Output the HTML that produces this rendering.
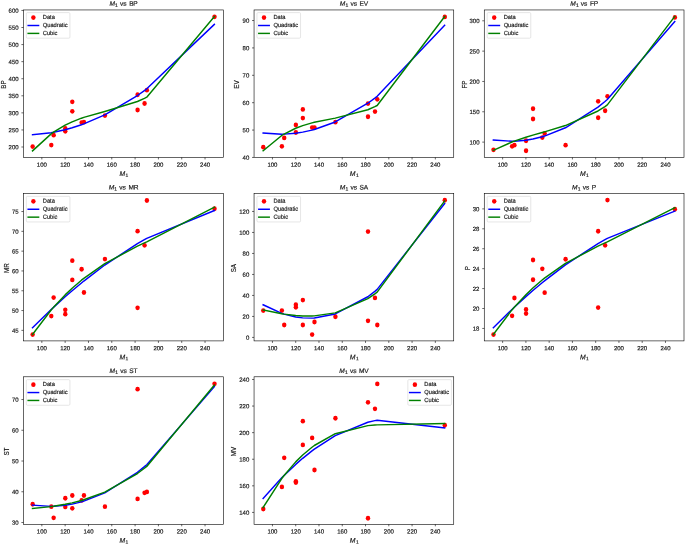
<!DOCTYPE html>
<html><head><meta charset="utf-8"><style>
html,body{margin:0;padding:0;background:#fff;}
svg{display:block;will-change:transform;}
text{font-family:"Liberation Sans",sans-serif;fill:#1a1a1a;stroke:#1a1a1a;stroke-width:0.18px;}
</style></head><body>
<svg width="685" height="545" viewBox="0 0 685 545">
<clipPath id="clipBP"><rect x="23.42" y="9.75" width="200.04" height="147.70"/></clipPath>
<g clip-path="url(#clipBP)">
<ellipse cx="32.66" cy="146.57" rx="2.22" ry="2.42" fill="#ff0000"/>
<ellipse cx="51.31" cy="145.10" rx="2.22" ry="2.42" fill="#ff0000"/>
<ellipse cx="53.65" cy="135.14" rx="2.22" ry="2.42" fill="#ff0000"/>
<ellipse cx="65.30" cy="128.44" rx="2.22" ry="2.42" fill="#ff0000"/>
<ellipse cx="65.30" cy="131.35" rx="2.22" ry="2.42" fill="#ff0000"/>
<ellipse cx="72.30" cy="101.80" rx="2.22" ry="2.42" fill="#ff0000"/>
<ellipse cx="72.30" cy="111.34" rx="2.22" ry="2.42" fill="#ff0000"/>
<ellipse cx="81.62" cy="122.56" rx="2.22" ry="2.42" fill="#ff0000"/>
<ellipse cx="83.96" cy="122.15" rx="2.22" ry="2.42" fill="#ff0000"/>
<ellipse cx="104.94" cy="115.55" rx="2.22" ry="2.42" fill="#ff0000"/>
<ellipse cx="137.58" cy="94.75" rx="2.22" ry="2.42" fill="#ff0000"/>
<ellipse cx="137.58" cy="110.04" rx="2.22" ry="2.42" fill="#ff0000"/>
<ellipse cx="144.57" cy="103.54" rx="2.22" ry="2.42" fill="#ff0000"/>
<ellipse cx="146.90" cy="90.14" rx="2.22" ry="2.42" fill="#ff0000"/>
<ellipse cx="214.52" cy="16.81" rx="2.22" ry="2.42" fill="#ff0000"/>
<polyline points="32.51,134.77 51.16,132.67 53.50,132.26 65.15,129.71 65.15,129.71 72.15,127.78 72.15,127.78 81.47,124.76 83.81,123.92 104.79,114.89 137.43,95.53 137.43,95.53 144.42,90.54 146.75,88.81 214.37,24.36" fill="none" stroke="#0000ff" stroke-width="1.45" stroke-linejoin="round" stroke-linecap="square"/>
<polyline points="32.51,150.87 51.16,133.87 53.50,132.21 65.15,125.19 65.15,125.19 72.15,121.85 72.15,121.85 81.47,118.19 83.81,117.39 104.79,111.44 137.43,101.47 137.43,101.47 144.42,98.33 146.75,97.16 214.37,16.55" fill="none" stroke="#008000" stroke-width="1.45" stroke-linejoin="round" stroke-linecap="square"/>
</g>
<rect x="23.42" y="9.95" width="200.04" height="147.50" fill="none" stroke="#000" stroke-width="0.6"/>
<g>
<line x1="41.84" y1="157.45" x2="41.84" y2="159.45" stroke="#000" stroke-width="0.6"/>
<text transform="translate(41.84,166.75) rotate(0.05)" font-size="6.0" text-anchor="middle">100</text>
<line x1="65.15" y1="157.45" x2="65.15" y2="159.45" stroke="#000" stroke-width="0.6"/>
<text transform="translate(65.15,166.75) rotate(0.05)" font-size="6.0" text-anchor="middle">120</text>
<line x1="88.47" y1="157.45" x2="88.47" y2="159.45" stroke="#000" stroke-width="0.6"/>
<text transform="translate(88.47,166.75) rotate(0.05)" font-size="6.0" text-anchor="middle">140</text>
<line x1="111.78" y1="157.45" x2="111.78" y2="159.45" stroke="#000" stroke-width="0.6"/>
<text transform="translate(111.78,166.75) rotate(0.05)" font-size="6.0" text-anchor="middle">160</text>
<line x1="135.10" y1="157.45" x2="135.10" y2="159.45" stroke="#000" stroke-width="0.6"/>
<text transform="translate(135.10,166.75) rotate(0.05)" font-size="6.0" text-anchor="middle">180</text>
<line x1="158.41" y1="157.45" x2="158.41" y2="159.45" stroke="#000" stroke-width="0.6"/>
<text transform="translate(158.41,166.75) rotate(0.05)" font-size="6.0" text-anchor="middle">200</text>
<line x1="181.73" y1="157.45" x2="181.73" y2="159.45" stroke="#000" stroke-width="0.6"/>
<text transform="translate(181.73,166.75) rotate(0.05)" font-size="6.0" text-anchor="middle">220</text>
<line x1="205.04" y1="157.45" x2="205.04" y2="159.45" stroke="#000" stroke-width="0.6"/>
<text transform="translate(205.04,166.75) rotate(0.05)" font-size="6.0" text-anchor="middle">240</text>
<line x1="21.42" y1="147.01" x2="23.42" y2="147.01" stroke="#000" stroke-width="0.6"/>
<text transform="translate(18.62,149.31) rotate(0.05)" font-size="6.0" text-anchor="end">200</text>
<line x1="21.42" y1="129.94" x2="23.42" y2="129.94" stroke="#000" stroke-width="0.6"/>
<text transform="translate(18.62,132.24) rotate(0.05)" font-size="6.0" text-anchor="end">250</text>
<line x1="21.42" y1="112.87" x2="23.42" y2="112.87" stroke="#000" stroke-width="0.6"/>
<text transform="translate(18.62,115.17) rotate(0.05)" font-size="6.0" text-anchor="end">300</text>
<line x1="21.42" y1="95.80" x2="23.42" y2="95.80" stroke="#000" stroke-width="0.6"/>
<text transform="translate(18.62,98.10) rotate(0.05)" font-size="6.0" text-anchor="end">350</text>
<line x1="21.42" y1="78.72" x2="23.42" y2="78.72" stroke="#000" stroke-width="0.6"/>
<text transform="translate(18.62,81.02) rotate(0.05)" font-size="6.0" text-anchor="end">400</text>
<line x1="21.42" y1="61.65" x2="23.42" y2="61.65" stroke="#000" stroke-width="0.6"/>
<text transform="translate(18.62,63.95) rotate(0.05)" font-size="6.0" text-anchor="end">450</text>
<line x1="21.42" y1="44.58" x2="23.42" y2="44.58" stroke="#000" stroke-width="0.6"/>
<text transform="translate(18.62,46.88) rotate(0.05)" font-size="6.0" text-anchor="end">500</text>
<line x1="21.42" y1="27.51" x2="23.42" y2="27.51" stroke="#000" stroke-width="0.6"/>
<text transform="translate(18.62,29.81) rotate(0.05)" font-size="6.0" text-anchor="end">550</text>
<line x1="21.42" y1="10.44" x2="23.42" y2="10.44" stroke="#000" stroke-width="0.6"/>
<text transform="translate(18.62,12.74) rotate(0.05)" font-size="6.0" text-anchor="end">600</text>
<text transform="translate(123.44,5.85) rotate(0.05) scale(1.0,1)" font-size="6.6" text-anchor="middle"><tspan font-style="italic">M</tspan><tspan font-size="5.02" dy="1.1" dx="0.2">1</tspan><tspan dy="-1.1" dx="2.1">vs</tspan><tspan dx="2.6" letter-spacing="-0.25">BP</tspan></text>
<text transform="translate(123.79,175.95) rotate(0.05) scale(1.0,1)" font-size="6.8" text-anchor="middle"><tspan font-style="italic">M</tspan><tspan font-size="4.90" dy="0.95" dx="0.35">1</tspan></text>
</g>
<text transform="translate(5.69,84.60) rotate(-90) scale(0.95,1)" font-size="6.6" text-anchor="middle">BP</text>
<rect x="26.32" y="12.60" width="43.6" height="25.6" rx="1.1" fill="#fff" fill-opacity="0.8" stroke="#cccccc" stroke-width="0.5"/>
<ellipse cx="33.37" cy="17.60" rx="2.22" ry="2.42" fill="#ff0000"/>
<line x1="27.42" y1="25.50" x2="39.32" y2="25.50" stroke="#0000ff" stroke-width="1.45"/>
<line x1="27.42" y1="33.40" x2="39.32" y2="33.40" stroke="#008000" stroke-width="1.45"/>
<g>
<text transform="translate(42.82,19.05) rotate(0.05) scale(0.970,1)" font-size="5.9">Data</text>
<text transform="translate(42.82,27.00) rotate(0.05) scale(0.970,1)" font-size="5.9">Quadratic</text>
<text transform="translate(42.82,34.95) rotate(0.05) scale(0.970,1)" font-size="5.9">Cubic</text>
</g>
<clipPath id="clipEV"><rect x="254.05" y="9.75" width="199.68" height="147.70"/></clipPath>
<g clip-path="url(#clipEV)">
<ellipse cx="263.28" cy="147.19" rx="2.22" ry="2.42" fill="#ff0000"/>
<ellipse cx="281.89" cy="146.37" rx="2.22" ry="2.42" fill="#ff0000"/>
<ellipse cx="284.22" cy="137.95" rx="2.22" ry="2.42" fill="#ff0000"/>
<ellipse cx="295.86" cy="124.89" rx="2.22" ry="2.42" fill="#ff0000"/>
<ellipse cx="295.86" cy="132.51" rx="2.22" ry="2.42" fill="#ff0000"/>
<ellipse cx="302.84" cy="109.40" rx="2.22" ry="2.42" fill="#ff0000"/>
<ellipse cx="302.84" cy="118.10" rx="2.22" ry="2.42" fill="#ff0000"/>
<ellipse cx="312.15" cy="127.61" rx="2.22" ry="2.42" fill="#ff0000"/>
<ellipse cx="314.48" cy="127.61" rx="2.22" ry="2.42" fill="#ff0000"/>
<ellipse cx="335.42" cy="122.18" rx="2.22" ry="2.42" fill="#ff0000"/>
<ellipse cx="368.00" cy="103.55" rx="2.22" ry="2.42" fill="#ff0000"/>
<ellipse cx="368.00" cy="116.74" rx="2.22" ry="2.42" fill="#ff0000"/>
<ellipse cx="374.99" cy="111.57" rx="2.22" ry="2.42" fill="#ff0000"/>
<ellipse cx="377.31" cy="99.34" rx="2.22" ry="2.42" fill="#ff0000"/>
<ellipse cx="444.80" cy="16.95" rx="2.22" ry="2.42" fill="#ff0000"/>
<polyline points="263.13,133.01 281.74,134.17 284.07,134.12 295.71,133.21 295.71,133.21 302.69,132.14 302.69,132.14 312.00,130.11 314.33,129.49 335.27,121.96 367.85,103.23 367.85,103.23 374.84,98.10 377.16,96.31 444.65,25.25" fill="none" stroke="#0000ff" stroke-width="1.45" stroke-linejoin="round" stroke-linecap="square"/>
<polyline points="263.13,150.78 281.74,135.50 284.07,134.07 295.71,128.23 295.71,128.23 302.69,125.59 302.69,125.59 312.00,122.86 314.33,122.29 335.27,118.16 367.85,109.78 367.85,109.78 374.84,106.69 377.16,105.51 444.65,16.64" fill="none" stroke="#008000" stroke-width="1.45" stroke-linejoin="round" stroke-linecap="square"/>
</g>
<rect x="254.05" y="9.95" width="199.68" height="147.50" fill="none" stroke="#000" stroke-width="0.6"/>
<g>
<line x1="272.44" y1="157.45" x2="272.44" y2="159.45" stroke="#000" stroke-width="0.6"/>
<text transform="translate(272.44,166.75) rotate(0.05)" font-size="6.0" text-anchor="middle">100</text>
<line x1="295.71" y1="157.45" x2="295.71" y2="159.45" stroke="#000" stroke-width="0.6"/>
<text transform="translate(295.71,166.75) rotate(0.05)" font-size="6.0" text-anchor="middle">120</text>
<line x1="318.98" y1="157.45" x2="318.98" y2="159.45" stroke="#000" stroke-width="0.6"/>
<text transform="translate(318.98,166.75) rotate(0.05)" font-size="6.0" text-anchor="middle">140</text>
<line x1="342.25" y1="157.45" x2="342.25" y2="159.45" stroke="#000" stroke-width="0.6"/>
<text transform="translate(342.25,166.75) rotate(0.05)" font-size="6.0" text-anchor="middle">160</text>
<line x1="365.53" y1="157.45" x2="365.53" y2="159.45" stroke="#000" stroke-width="0.6"/>
<text transform="translate(365.53,166.75) rotate(0.05)" font-size="6.0" text-anchor="middle">180</text>
<line x1="388.80" y1="157.45" x2="388.80" y2="159.45" stroke="#000" stroke-width="0.6"/>
<text transform="translate(388.80,166.75) rotate(0.05)" font-size="6.0" text-anchor="middle">200</text>
<line x1="412.07" y1="157.45" x2="412.07" y2="159.45" stroke="#000" stroke-width="0.6"/>
<text transform="translate(412.07,166.75) rotate(0.05)" font-size="6.0" text-anchor="middle">220</text>
<line x1="435.34" y1="157.45" x2="435.34" y2="159.45" stroke="#000" stroke-width="0.6"/>
<text transform="translate(435.34,166.75) rotate(0.05)" font-size="6.0" text-anchor="middle">240</text>
<line x1="252.05" y1="157.45" x2="254.05" y2="157.45" stroke="#000" stroke-width="0.6"/>
<text transform="translate(249.25,159.75) rotate(0.05)" font-size="6.0" text-anchor="end">40</text>
<line x1="252.05" y1="130.07" x2="254.05" y2="130.07" stroke="#000" stroke-width="0.6"/>
<text transform="translate(249.25,132.37) rotate(0.05)" font-size="6.0" text-anchor="end">50</text>
<line x1="252.05" y1="102.69" x2="254.05" y2="102.69" stroke="#000" stroke-width="0.6"/>
<text transform="translate(249.25,104.99) rotate(0.05)" font-size="6.0" text-anchor="end">60</text>
<line x1="252.05" y1="75.30" x2="254.05" y2="75.30" stroke="#000" stroke-width="0.6"/>
<text transform="translate(249.25,77.60) rotate(0.05)" font-size="6.0" text-anchor="end">70</text>
<line x1="252.05" y1="47.92" x2="254.05" y2="47.92" stroke="#000" stroke-width="0.6"/>
<text transform="translate(249.25,50.22) rotate(0.05)" font-size="6.0" text-anchor="end">80</text>
<line x1="252.05" y1="20.54" x2="254.05" y2="20.54" stroke="#000" stroke-width="0.6"/>
<text transform="translate(249.25,22.84) rotate(0.05)" font-size="6.0" text-anchor="end">90</text>
<text transform="translate(353.89,5.85) rotate(0.05) scale(1.0,1)" font-size="6.6" text-anchor="middle"><tspan font-style="italic">M</tspan><tspan font-size="5.02" dy="1.1" dx="0.2">1</tspan><tspan dy="-1.1" dx="2.1">vs</tspan><tspan dx="2.6" letter-spacing="-0.25">EV</tspan></text>
<text transform="translate(354.24,175.95) rotate(0.05) scale(1.0,1)" font-size="6.8" text-anchor="middle"><tspan font-style="italic">M</tspan><tspan font-size="4.90" dy="0.95" dx="0.35">1</tspan></text>
</g>
<text transform="translate(239.32,84.60) rotate(-90) scale(0.95,1)" font-size="6.6" text-anchor="middle">EV</text>
<rect x="256.95" y="12.60" width="43.6" height="25.6" rx="1.1" fill="#fff" fill-opacity="0.8" stroke="#cccccc" stroke-width="0.5"/>
<ellipse cx="264.00" cy="17.60" rx="2.22" ry="2.42" fill="#ff0000"/>
<line x1="258.05" y1="25.50" x2="269.95" y2="25.50" stroke="#0000ff" stroke-width="1.45"/>
<line x1="258.05" y1="33.40" x2="269.95" y2="33.40" stroke="#008000" stroke-width="1.45"/>
<g>
<text transform="translate(273.45,19.05) rotate(0.05) scale(0.970,1)" font-size="5.9">Data</text>
<text transform="translate(273.45,27.00) rotate(0.05) scale(0.970,1)" font-size="5.9">Quadratic</text>
<text transform="translate(273.45,34.95) rotate(0.05) scale(0.970,1)" font-size="5.9">Cubic</text>
</g>
<clipPath id="clipFP"><rect x="484.27" y="9.75" width="199.56" height="147.70"/></clipPath>
<g clip-path="url(#clipFP)">
<ellipse cx="493.49" cy="149.85" rx="2.22" ry="2.42" fill="#ff0000"/>
<ellipse cx="512.10" cy="146.35" rx="2.22" ry="2.42" fill="#ff0000"/>
<ellipse cx="514.42" cy="145.15" rx="2.22" ry="2.42" fill="#ff0000"/>
<ellipse cx="526.05" cy="140.74" rx="2.22" ry="2.42" fill="#ff0000"/>
<ellipse cx="526.05" cy="150.75" rx="2.22" ry="2.42" fill="#ff0000"/>
<ellipse cx="533.03" cy="108.72" rx="2.22" ry="2.42" fill="#ff0000"/>
<ellipse cx="533.03" cy="119.04" rx="2.22" ry="2.42" fill="#ff0000"/>
<ellipse cx="542.33" cy="137.55" rx="2.22" ry="2.42" fill="#ff0000"/>
<ellipse cx="544.66" cy="133.45" rx="2.22" ry="2.42" fill="#ff0000"/>
<ellipse cx="565.59" cy="145.15" rx="2.22" ry="2.42" fill="#ff0000"/>
<ellipse cx="598.16" cy="101.37" rx="2.22" ry="2.42" fill="#ff0000"/>
<ellipse cx="598.16" cy="117.77" rx="2.22" ry="2.42" fill="#ff0000"/>
<ellipse cx="605.13" cy="110.78" rx="2.22" ry="2.42" fill="#ff0000"/>
<ellipse cx="607.46" cy="96.36" rx="2.22" ry="2.42" fill="#ff0000"/>
<ellipse cx="674.91" cy="17.43" rx="2.22" ry="2.42" fill="#ff0000"/>
<polyline points="493.34,139.98 511.95,141.24 514.27,141.18 525.90,140.17 525.90,140.17 532.88,138.98 532.88,138.98 542.18,136.74 544.51,136.06 565.44,127.77 598.01,107.17 598.01,107.17 604.98,101.54 607.31,99.56 674.76,21.50" fill="none" stroke="#0000ff" stroke-width="1.45" stroke-linejoin="round" stroke-linecap="square"/>
<polyline points="493.34,150.33 511.95,142.01 514.27,141.15 525.90,137.26 525.90,137.26 532.88,135.17 532.88,135.17 542.18,132.52 544.51,131.86 565.44,125.56 598.01,110.98 598.01,110.98 604.98,106.54 607.31,104.92 674.76,16.48" fill="none" stroke="#008000" stroke-width="1.45" stroke-linejoin="round" stroke-linecap="square"/>
</g>
<rect x="484.27" y="9.95" width="199.73" height="147.50" fill="none" stroke="#000" stroke-width="0.6"/>
<g>
<line x1="502.64" y1="157.45" x2="502.64" y2="159.45" stroke="#000" stroke-width="0.6"/>
<text transform="translate(502.64,166.75) rotate(0.05)" font-size="6.0" text-anchor="middle">100</text>
<line x1="525.90" y1="157.45" x2="525.90" y2="159.45" stroke="#000" stroke-width="0.6"/>
<text transform="translate(525.90,166.75) rotate(0.05)" font-size="6.0" text-anchor="middle">120</text>
<line x1="549.16" y1="157.45" x2="549.16" y2="159.45" stroke="#000" stroke-width="0.6"/>
<text transform="translate(549.16,166.75) rotate(0.05)" font-size="6.0" text-anchor="middle">140</text>
<line x1="572.42" y1="157.45" x2="572.42" y2="159.45" stroke="#000" stroke-width="0.6"/>
<text transform="translate(572.42,166.75) rotate(0.05)" font-size="6.0" text-anchor="middle">160</text>
<line x1="595.68" y1="157.45" x2="595.68" y2="159.45" stroke="#000" stroke-width="0.6"/>
<text transform="translate(595.68,166.75) rotate(0.05)" font-size="6.0" text-anchor="middle">180</text>
<line x1="618.94" y1="157.45" x2="618.94" y2="159.45" stroke="#000" stroke-width="0.6"/>
<text transform="translate(618.94,166.75) rotate(0.05)" font-size="6.0" text-anchor="middle">200</text>
<line x1="642.20" y1="157.45" x2="642.20" y2="159.45" stroke="#000" stroke-width="0.6"/>
<text transform="translate(642.20,166.75) rotate(0.05)" font-size="6.0" text-anchor="middle">220</text>
<line x1="665.46" y1="157.45" x2="665.46" y2="159.45" stroke="#000" stroke-width="0.6"/>
<text transform="translate(665.46,166.75) rotate(0.05)" font-size="6.0" text-anchor="middle">240</text>
<line x1="482.27" y1="142.11" x2="484.27" y2="142.11" stroke="#000" stroke-width="0.6"/>
<text transform="translate(479.47,144.41) rotate(0.05)" font-size="6.0" text-anchor="end">100</text>
<line x1="482.27" y1="111.78" x2="484.27" y2="111.78" stroke="#000" stroke-width="0.6"/>
<text transform="translate(479.47,114.08) rotate(0.05)" font-size="6.0" text-anchor="end">150</text>
<line x1="482.27" y1="81.46" x2="484.27" y2="81.46" stroke="#000" stroke-width="0.6"/>
<text transform="translate(479.47,83.76) rotate(0.05)" font-size="6.0" text-anchor="end">200</text>
<line x1="482.27" y1="51.13" x2="484.27" y2="51.13" stroke="#000" stroke-width="0.6"/>
<text transform="translate(479.47,53.43) rotate(0.05)" font-size="6.0" text-anchor="end">250</text>
<line x1="482.27" y1="20.80" x2="484.27" y2="20.80" stroke="#000" stroke-width="0.6"/>
<text transform="translate(479.47,23.10) rotate(0.05)" font-size="6.0" text-anchor="end">300</text>
<text transform="translate(584.05,5.85) rotate(0.05) scale(1.0,1)" font-size="6.6" text-anchor="middle"><tspan font-style="italic">M</tspan><tspan font-size="5.02" dy="1.1" dx="0.2">1</tspan><tspan dy="-1.1" dx="2.1">vs</tspan><tspan dx="2.6" letter-spacing="-0.25">FP</tspan></text>
<text transform="translate(584.40,175.95) rotate(0.05) scale(1.0,1)" font-size="6.8" text-anchor="middle"><tspan font-style="italic">M</tspan><tspan font-size="4.90" dy="0.95" dx="0.35">1</tspan></text>
</g>
<text transform="translate(466.54,84.60) rotate(-90) scale(0.95,1)" font-size="6.6" text-anchor="middle">FP</text>
<rect x="487.17" y="12.60" width="43.6" height="25.6" rx="1.1" fill="#fff" fill-opacity="0.8" stroke="#cccccc" stroke-width="0.5"/>
<ellipse cx="494.22" cy="17.60" rx="2.22" ry="2.42" fill="#ff0000"/>
<line x1="488.27" y1="25.50" x2="500.17" y2="25.50" stroke="#0000ff" stroke-width="1.45"/>
<line x1="488.27" y1="33.40" x2="500.17" y2="33.40" stroke="#008000" stroke-width="1.45"/>
<g>
<text transform="translate(503.67,19.05) rotate(0.05) scale(0.970,1)" font-size="5.9">Data</text>
<text transform="translate(503.67,27.00) rotate(0.05) scale(0.970,1)" font-size="5.9">Quadratic</text>
<text transform="translate(503.67,34.95) rotate(0.05) scale(0.970,1)" font-size="5.9">Cubic</text>
</g>
<clipPath id="clipMR"><rect x="23.42" y="193.5" width="200.04" height="147.40"/></clipPath>
<g clip-path="url(#clipMR)">
<ellipse cx="32.66" cy="334.58" rx="2.22" ry="2.42" fill="#ff0000"/>
<ellipse cx="51.31" cy="316.09" rx="2.22" ry="2.42" fill="#ff0000"/>
<ellipse cx="53.65" cy="297.61" rx="2.22" ry="2.42" fill="#ff0000"/>
<ellipse cx="65.30" cy="309.80" rx="2.22" ry="2.42" fill="#ff0000"/>
<ellipse cx="65.30" cy="314.13" rx="2.22" ry="2.42" fill="#ff0000"/>
<ellipse cx="72.30" cy="260.64" rx="2.22" ry="2.42" fill="#ff0000"/>
<ellipse cx="72.30" cy="279.91" rx="2.22" ry="2.42" fill="#ff0000"/>
<ellipse cx="81.62" cy="269.29" rx="2.22" ry="2.42" fill="#ff0000"/>
<ellipse cx="83.96" cy="292.49" rx="2.22" ry="2.42" fill="#ff0000"/>
<ellipse cx="104.94" cy="259.06" rx="2.22" ry="2.42" fill="#ff0000"/>
<ellipse cx="137.58" cy="231.14" rx="2.22" ry="2.42" fill="#ff0000"/>
<ellipse cx="137.58" cy="307.83" rx="2.22" ry="2.42" fill="#ff0000"/>
<ellipse cx="144.57" cy="245.30" rx="2.22" ry="2.42" fill="#ff0000"/>
<ellipse cx="146.90" cy="200.46" rx="2.22" ry="2.42" fill="#ff0000"/>
<ellipse cx="214.52" cy="208.72" rx="2.22" ry="2.42" fill="#ff0000"/>
<polyline points="32.51,327.78 51.16,309.54 53.50,307.37 65.15,296.80 65.15,296.80 72.15,290.73 72.15,290.73 81.47,282.95 83.81,281.05 104.79,265.03 137.43,243.69 137.43,243.69 144.42,239.68 146.75,238.38 214.37,210.56" fill="none" stroke="#0000ff" stroke-width="1.45" stroke-linejoin="round" stroke-linecap="square"/>
<polyline points="32.51,334.54 51.16,310.05 53.50,307.35 65.15,294.90 65.15,294.90 72.15,288.24 72.15,288.24 81.47,280.19 83.81,278.31 104.79,263.59 137.43,246.18 137.43,246.18 144.42,242.95 146.75,241.89 214.37,207.28" fill="none" stroke="#008000" stroke-width="1.45" stroke-linejoin="round" stroke-linecap="square"/>
</g>
<rect x="23.42" y="193.5" width="200.04" height="147.40" fill="none" stroke="#000" stroke-width="0.6"/>
<g>
<line x1="41.84" y1="340.9" x2="41.84" y2="342.90" stroke="#000" stroke-width="0.6"/>
<text transform="translate(41.84,350.20) rotate(0.05)" font-size="6.0" text-anchor="middle">100</text>
<line x1="65.15" y1="340.9" x2="65.15" y2="342.90" stroke="#000" stroke-width="0.6"/>
<text transform="translate(65.15,350.20) rotate(0.05)" font-size="6.0" text-anchor="middle">120</text>
<line x1="88.47" y1="340.9" x2="88.47" y2="342.90" stroke="#000" stroke-width="0.6"/>
<text transform="translate(88.47,350.20) rotate(0.05)" font-size="6.0" text-anchor="middle">140</text>
<line x1="111.78" y1="340.9" x2="111.78" y2="342.90" stroke="#000" stroke-width="0.6"/>
<text transform="translate(111.78,350.20) rotate(0.05)" font-size="6.0" text-anchor="middle">160</text>
<line x1="135.10" y1="340.9" x2="135.10" y2="342.90" stroke="#000" stroke-width="0.6"/>
<text transform="translate(135.10,350.20) rotate(0.05)" font-size="6.0" text-anchor="middle">180</text>
<line x1="158.41" y1="340.9" x2="158.41" y2="342.90" stroke="#000" stroke-width="0.6"/>
<text transform="translate(158.41,350.20) rotate(0.05)" font-size="6.0" text-anchor="middle">200</text>
<line x1="181.73" y1="340.9" x2="181.73" y2="342.90" stroke="#000" stroke-width="0.6"/>
<text transform="translate(181.73,350.20) rotate(0.05)" font-size="6.0" text-anchor="middle">220</text>
<line x1="205.04" y1="340.9" x2="205.04" y2="342.90" stroke="#000" stroke-width="0.6"/>
<text transform="translate(205.04,350.20) rotate(0.05)" font-size="6.0" text-anchor="middle">240</text>
<line x1="21.42" y1="330.37" x2="23.42" y2="330.37" stroke="#000" stroke-width="0.6"/>
<text transform="translate(18.62,332.67) rotate(0.05)" font-size="6.0" text-anchor="end">45</text>
<line x1="21.42" y1="310.56" x2="23.42" y2="310.56" stroke="#000" stroke-width="0.6"/>
<text transform="translate(18.62,312.87) rotate(0.05)" font-size="6.0" text-anchor="end">50</text>
<line x1="21.42" y1="290.76" x2="23.42" y2="290.76" stroke="#000" stroke-width="0.6"/>
<text transform="translate(18.62,293.06) rotate(0.05)" font-size="6.0" text-anchor="end">55</text>
<line x1="21.42" y1="270.95" x2="23.42" y2="270.95" stroke="#000" stroke-width="0.6"/>
<text transform="translate(18.62,273.25) rotate(0.05)" font-size="6.0" text-anchor="end">60</text>
<line x1="21.42" y1="251.15" x2="23.42" y2="251.15" stroke="#000" stroke-width="0.6"/>
<text transform="translate(18.62,253.45) rotate(0.05)" font-size="6.0" text-anchor="end">65</text>
<line x1="21.42" y1="231.34" x2="23.42" y2="231.34" stroke="#000" stroke-width="0.6"/>
<text transform="translate(18.62,233.65) rotate(0.05)" font-size="6.0" text-anchor="end">70</text>
<line x1="21.42" y1="211.54" x2="23.42" y2="211.54" stroke="#000" stroke-width="0.6"/>
<text transform="translate(18.62,213.84) rotate(0.05)" font-size="6.0" text-anchor="end">75</text>
<text transform="translate(123.44,189.60) rotate(0.05) scale(1.0,1)" font-size="6.6" text-anchor="middle"><tspan font-style="italic">M</tspan><tspan font-size="5.02" dy="1.1" dx="0.2">1</tspan><tspan dy="-1.1" dx="2.1">vs</tspan><tspan dx="2.6" letter-spacing="-0.25">MR</tspan></text>
<text transform="translate(123.79,359.40) rotate(0.05) scale(1.0,1)" font-size="6.8" text-anchor="middle"><tspan font-style="italic">M</tspan><tspan font-size="4.90" dy="0.95" dx="0.35">1</tspan></text>
</g>
<text transform="translate(8.69,268.20) rotate(-90) scale(0.95,1)" font-size="6.6" text-anchor="middle">MR</text>
<rect x="26.32" y="196.35" width="43.6" height="25.6" rx="1.1" fill="#fff" fill-opacity="0.8" stroke="#cccccc" stroke-width="0.5"/>
<ellipse cx="33.37" cy="201.35" rx="2.22" ry="2.42" fill="#ff0000"/>
<line x1="27.42" y1="209.25" x2="39.32" y2="209.25" stroke="#0000ff" stroke-width="1.45"/>
<line x1="27.42" y1="217.15" x2="39.32" y2="217.15" stroke="#008000" stroke-width="1.45"/>
<g>
<text transform="translate(42.82,202.80) rotate(0.05) scale(0.970,1)" font-size="5.9">Data</text>
<text transform="translate(42.82,210.75) rotate(0.05) scale(0.970,1)" font-size="5.9">Quadratic</text>
<text transform="translate(42.82,218.70) rotate(0.05) scale(0.970,1)" font-size="5.9">Cubic</text>
</g>
<clipPath id="clipSA"><rect x="254.05" y="193.5" width="199.68" height="147.40"/></clipPath>
<g clip-path="url(#clipSA)">
<ellipse cx="263.28" cy="310.59" rx="2.22" ry="2.42" fill="#ff0000"/>
<ellipse cx="281.89" cy="310.59" rx="2.22" ry="2.42" fill="#ff0000"/>
<ellipse cx="284.22" cy="324.96" rx="2.22" ry="2.42" fill="#ff0000"/>
<ellipse cx="295.86" cy="304.72" rx="2.22" ry="2.42" fill="#ff0000"/>
<ellipse cx="295.86" cy="307.34" rx="2.22" ry="2.42" fill="#ff0000"/>
<ellipse cx="302.84" cy="300.10" rx="2.22" ry="2.42" fill="#ff0000"/>
<ellipse cx="302.84" cy="324.96" rx="2.22" ry="2.42" fill="#ff0000"/>
<ellipse cx="312.15" cy="334.61" rx="2.22" ry="2.42" fill="#ff0000"/>
<ellipse cx="314.48" cy="322.03" rx="2.22" ry="2.42" fill="#ff0000"/>
<ellipse cx="335.42" cy="316.78" rx="2.22" ry="2.42" fill="#ff0000"/>
<ellipse cx="368.00" cy="231.60" rx="2.22" ry="2.42" fill="#ff0000"/>
<ellipse cx="368.00" cy="320.87" rx="2.22" ry="2.42" fill="#ff0000"/>
<ellipse cx="374.99" cy="297.95" rx="2.22" ry="2.42" fill="#ff0000"/>
<ellipse cx="377.31" cy="324.96" rx="2.22" ry="2.42" fill="#ff0000"/>
<ellipse cx="444.80" cy="200.24" rx="2.22" ry="2.42" fill="#ff0000"/>
<polyline points="263.13,304.78 281.74,313.40 284.07,314.17 295.71,317.01 295.71,317.01 302.69,317.90 302.69,317.90 312.00,318.13 314.33,318.02 335.27,313.97 367.85,296.75 367.85,296.75 374.84,291.33 377.16,289.39 444.65,203.54" fill="none" stroke="#0000ff" stroke-width="1.45" stroke-linejoin="round" stroke-linecap="square"/>
<polyline points="263.13,310.05 281.74,313.79 284.07,314.15 295.71,315.53 295.71,315.53 302.69,315.96 302.69,315.96 312.00,315.99 314.33,315.89 335.27,312.85 367.85,298.69 367.85,298.69 374.84,293.88 377.16,292.12 444.65,200.98" fill="none" stroke="#008000" stroke-width="1.45" stroke-linejoin="round" stroke-linecap="square"/>
</g>
<rect x="254.05" y="193.5" width="199.68" height="147.40" fill="none" stroke="#000" stroke-width="0.6"/>
<g>
<line x1="272.44" y1="340.9" x2="272.44" y2="342.90" stroke="#000" stroke-width="0.6"/>
<text transform="translate(272.44,350.20) rotate(0.05)" font-size="6.0" text-anchor="middle">100</text>
<line x1="295.71" y1="340.9" x2="295.71" y2="342.90" stroke="#000" stroke-width="0.6"/>
<text transform="translate(295.71,350.20) rotate(0.05)" font-size="6.0" text-anchor="middle">120</text>
<line x1="318.98" y1="340.9" x2="318.98" y2="342.90" stroke="#000" stroke-width="0.6"/>
<text transform="translate(318.98,350.20) rotate(0.05)" font-size="6.0" text-anchor="middle">140</text>
<line x1="342.25" y1="340.9" x2="342.25" y2="342.90" stroke="#000" stroke-width="0.6"/>
<text transform="translate(342.25,350.20) rotate(0.05)" font-size="6.0" text-anchor="middle">160</text>
<line x1="365.53" y1="340.9" x2="365.53" y2="342.90" stroke="#000" stroke-width="0.6"/>
<text transform="translate(365.53,350.20) rotate(0.05)" font-size="6.0" text-anchor="middle">180</text>
<line x1="388.80" y1="340.9" x2="388.80" y2="342.90" stroke="#000" stroke-width="0.6"/>
<text transform="translate(388.80,350.20) rotate(0.05)" font-size="6.0" text-anchor="middle">200</text>
<line x1="412.07" y1="340.9" x2="412.07" y2="342.90" stroke="#000" stroke-width="0.6"/>
<text transform="translate(412.07,350.20) rotate(0.05)" font-size="6.0" text-anchor="middle">220</text>
<line x1="435.34" y1="340.9" x2="435.34" y2="342.90" stroke="#000" stroke-width="0.6"/>
<text transform="translate(435.34,350.20) rotate(0.05)" font-size="6.0" text-anchor="middle">240</text>
<line x1="252.05" y1="337.42" x2="254.05" y2="337.42" stroke="#000" stroke-width="0.6"/>
<text transform="translate(249.25,339.72) rotate(0.05)" font-size="6.0" text-anchor="end">0</text>
<line x1="252.05" y1="316.43" x2="254.05" y2="316.43" stroke="#000" stroke-width="0.6"/>
<text transform="translate(249.25,318.73) rotate(0.05)" font-size="6.0" text-anchor="end">20</text>
<line x1="252.05" y1="295.43" x2="254.05" y2="295.43" stroke="#000" stroke-width="0.6"/>
<text transform="translate(249.25,297.73) rotate(0.05)" font-size="6.0" text-anchor="end">40</text>
<line x1="252.05" y1="274.44" x2="254.05" y2="274.44" stroke="#000" stroke-width="0.6"/>
<text transform="translate(249.25,276.74) rotate(0.05)" font-size="6.0" text-anchor="end">60</text>
<line x1="252.05" y1="253.44" x2="254.05" y2="253.44" stroke="#000" stroke-width="0.6"/>
<text transform="translate(249.25,255.74) rotate(0.05)" font-size="6.0" text-anchor="end">80</text>
<line x1="252.05" y1="232.44" x2="254.05" y2="232.44" stroke="#000" stroke-width="0.6"/>
<text transform="translate(249.25,234.75) rotate(0.05)" font-size="6.0" text-anchor="end">100</text>
<line x1="252.05" y1="211.45" x2="254.05" y2="211.45" stroke="#000" stroke-width="0.6"/>
<text transform="translate(249.25,213.75) rotate(0.05)" font-size="6.0" text-anchor="end">120</text>
<text transform="translate(353.89,189.60) rotate(0.05) scale(1.0,1)" font-size="6.6" text-anchor="middle"><tspan font-style="italic">M</tspan><tspan font-size="5.02" dy="1.1" dx="0.2">1</tspan><tspan dy="-1.1" dx="2.1">vs</tspan><tspan dx="2.6" letter-spacing="-0.25">SA</tspan></text>
<text transform="translate(354.24,359.40) rotate(0.05) scale(1.0,1)" font-size="6.8" text-anchor="middle"><tspan font-style="italic">M</tspan><tspan font-size="4.90" dy="0.95" dx="0.35">1</tspan></text>
</g>
<text transform="translate(236.32,268.20) rotate(-90) scale(0.95,1)" font-size="6.6" text-anchor="middle">SA</text>
<rect x="256.95" y="196.35" width="43.6" height="25.6" rx="1.1" fill="#fff" fill-opacity="0.8" stroke="#cccccc" stroke-width="0.5"/>
<ellipse cx="264.00" cy="201.35" rx="2.22" ry="2.42" fill="#ff0000"/>
<line x1="258.05" y1="209.25" x2="269.95" y2="209.25" stroke="#0000ff" stroke-width="1.45"/>
<line x1="258.05" y1="217.15" x2="269.95" y2="217.15" stroke="#008000" stroke-width="1.45"/>
<g>
<text transform="translate(273.45,202.80) rotate(0.05) scale(0.970,1)" font-size="5.9">Data</text>
<text transform="translate(273.45,210.75) rotate(0.05) scale(0.970,1)" font-size="5.9">Quadratic</text>
<text transform="translate(273.45,218.70) rotate(0.05) scale(0.970,1)" font-size="5.9">Cubic</text>
</g>
<clipPath id="clipP"><rect x="484.27" y="193.5" width="199.56" height="147.40"/></clipPath>
<g clip-path="url(#clipP)">
<ellipse cx="493.49" cy="334.61" rx="2.22" ry="2.42" fill="#ff0000"/>
<ellipse cx="512.10" cy="315.84" rx="2.22" ry="2.42" fill="#ff0000"/>
<ellipse cx="514.42" cy="297.96" rx="2.22" ry="2.42" fill="#ff0000"/>
<ellipse cx="526.05" cy="309.48" rx="2.22" ry="2.42" fill="#ff0000"/>
<ellipse cx="526.05" cy="313.55" rx="2.22" ry="2.42" fill="#ff0000"/>
<ellipse cx="533.03" cy="260.01" rx="2.22" ry="2.42" fill="#ff0000"/>
<ellipse cx="533.03" cy="279.77" rx="2.22" ry="2.42" fill="#ff0000"/>
<ellipse cx="542.33" cy="268.85" rx="2.22" ry="2.42" fill="#ff0000"/>
<ellipse cx="544.66" cy="292.70" rx="2.22" ry="2.42" fill="#ff0000"/>
<ellipse cx="565.59" cy="259.22" rx="2.22" ry="2.42" fill="#ff0000"/>
<ellipse cx="598.16" cy="231.21" rx="2.22" ry="2.42" fill="#ff0000"/>
<ellipse cx="598.16" cy="307.59" rx="2.22" ry="2.42" fill="#ff0000"/>
<ellipse cx="605.13" cy="245.31" rx="2.22" ry="2.42" fill="#ff0000"/>
<ellipse cx="607.46" cy="200.11" rx="2.22" ry="2.42" fill="#ff0000"/>
<ellipse cx="674.91" cy="209.25" rx="2.22" ry="2.42" fill="#ff0000"/>
<polyline points="493.34,327.73 511.95,309.41 514.27,307.22 525.90,296.62 525.90,296.62 532.88,290.53 532.88,290.53 542.18,282.73 544.51,280.84 565.44,264.82 598.01,243.57 598.01,243.57 604.98,239.59 607.31,238.32 674.76,211.09" fill="none" stroke="#0000ff" stroke-width="1.45" stroke-linejoin="round" stroke-linecap="square"/>
<polyline points="493.34,334.54 511.95,309.92 514.27,307.20 525.90,294.71 525.90,294.71 532.88,288.02 532.88,288.02 542.18,279.96 544.51,278.08 565.44,263.37 598.01,246.08 598.01,246.08 604.98,242.88 607.31,241.84 674.76,207.79" fill="none" stroke="#008000" stroke-width="1.45" stroke-linejoin="round" stroke-linecap="square"/>
</g>
<rect x="484.27" y="193.5" width="199.73" height="147.40" fill="none" stroke="#000" stroke-width="0.6"/>
<g>
<line x1="502.64" y1="340.9" x2="502.64" y2="342.90" stroke="#000" stroke-width="0.6"/>
<text transform="translate(502.64,350.20) rotate(0.05)" font-size="6.0" text-anchor="middle">100</text>
<line x1="525.90" y1="340.9" x2="525.90" y2="342.90" stroke="#000" stroke-width="0.6"/>
<text transform="translate(525.90,350.20) rotate(0.05)" font-size="6.0" text-anchor="middle">120</text>
<line x1="549.16" y1="340.9" x2="549.16" y2="342.90" stroke="#000" stroke-width="0.6"/>
<text transform="translate(549.16,350.20) rotate(0.05)" font-size="6.0" text-anchor="middle">140</text>
<line x1="572.42" y1="340.9" x2="572.42" y2="342.90" stroke="#000" stroke-width="0.6"/>
<text transform="translate(572.42,350.20) rotate(0.05)" font-size="6.0" text-anchor="middle">160</text>
<line x1="595.68" y1="340.9" x2="595.68" y2="342.90" stroke="#000" stroke-width="0.6"/>
<text transform="translate(595.68,350.20) rotate(0.05)" font-size="6.0" text-anchor="middle">180</text>
<line x1="618.94" y1="340.9" x2="618.94" y2="342.90" stroke="#000" stroke-width="0.6"/>
<text transform="translate(618.94,350.20) rotate(0.05)" font-size="6.0" text-anchor="middle">200</text>
<line x1="642.20" y1="340.9" x2="642.20" y2="342.90" stroke="#000" stroke-width="0.6"/>
<text transform="translate(642.20,350.20) rotate(0.05)" font-size="6.0" text-anchor="middle">220</text>
<line x1="665.46" y1="340.9" x2="665.46" y2="342.90" stroke="#000" stroke-width="0.6"/>
<text transform="translate(665.46,350.20) rotate(0.05)" font-size="6.0" text-anchor="middle">240</text>
<line x1="482.27" y1="328.44" x2="484.27" y2="328.44" stroke="#000" stroke-width="0.6"/>
<text transform="translate(479.47,330.74) rotate(0.05)" font-size="6.0" text-anchor="end">18</text>
<line x1="482.27" y1="308.51" x2="484.27" y2="308.51" stroke="#000" stroke-width="0.6"/>
<text transform="translate(479.47,310.81) rotate(0.05)" font-size="6.0" text-anchor="end">20</text>
<line x1="482.27" y1="288.59" x2="484.27" y2="288.59" stroke="#000" stroke-width="0.6"/>
<text transform="translate(479.47,290.89) rotate(0.05)" font-size="6.0" text-anchor="end">22</text>
<line x1="482.27" y1="268.66" x2="484.27" y2="268.66" stroke="#000" stroke-width="0.6"/>
<text transform="translate(479.47,270.96) rotate(0.05)" font-size="6.0" text-anchor="end">24</text>
<line x1="482.27" y1="248.74" x2="484.27" y2="248.74" stroke="#000" stroke-width="0.6"/>
<text transform="translate(479.47,251.04) rotate(0.05)" font-size="6.0" text-anchor="end">26</text>
<line x1="482.27" y1="228.81" x2="484.27" y2="228.81" stroke="#000" stroke-width="0.6"/>
<text transform="translate(479.47,231.12) rotate(0.05)" font-size="6.0" text-anchor="end">28</text>
<line x1="482.27" y1="208.89" x2="484.27" y2="208.89" stroke="#000" stroke-width="0.6"/>
<text transform="translate(479.47,211.19) rotate(0.05)" font-size="6.0" text-anchor="end">30</text>
<text transform="translate(584.05,189.60) rotate(0.05) scale(1.0,1)" font-size="6.6" text-anchor="middle"><tspan font-style="italic">M</tspan><tspan font-size="5.02" dy="1.1" dx="0.2">1</tspan><tspan dy="-1.1" dx="2.1">vs</tspan><tspan dx="2.6" letter-spacing="-0.25">P</tspan></text>
<text transform="translate(584.40,359.40) rotate(0.05) scale(1.0,1)" font-size="6.8" text-anchor="middle"><tspan font-style="italic">M</tspan><tspan font-size="4.90" dy="0.95" dx="0.35">1</tspan></text>
</g>
<text transform="translate(469.54,268.20) rotate(-90) scale(0.95,1)" font-size="6.6" text-anchor="middle">P</text>
<rect x="487.17" y="196.35" width="43.6" height="25.6" rx="1.1" fill="#fff" fill-opacity="0.8" stroke="#cccccc" stroke-width="0.5"/>
<ellipse cx="494.22" cy="201.35" rx="2.22" ry="2.42" fill="#ff0000"/>
<line x1="488.27" y1="209.25" x2="500.17" y2="209.25" stroke="#0000ff" stroke-width="1.45"/>
<line x1="488.27" y1="217.15" x2="500.17" y2="217.15" stroke="#008000" stroke-width="1.45"/>
<g>
<text transform="translate(503.67,202.80) rotate(0.05) scale(0.970,1)" font-size="5.9">Data</text>
<text transform="translate(503.67,210.75) rotate(0.05) scale(0.970,1)" font-size="5.9">Quadratic</text>
<text transform="translate(503.67,218.70) rotate(0.05) scale(0.970,1)" font-size="5.9">Cubic</text>
</g>
<clipPath id="clipST"><rect x="23.42" y="376.8" width="200.04" height="147.50"/></clipPath>
<g clip-path="url(#clipST)">
<ellipse cx="32.66" cy="504.24" rx="2.22" ry="2.42" fill="#ff0000"/>
<ellipse cx="51.31" cy="506.66" rx="2.22" ry="2.42" fill="#ff0000"/>
<ellipse cx="53.65" cy="517.86" rx="2.22" ry="2.42" fill="#ff0000"/>
<ellipse cx="65.30" cy="498.28" rx="2.22" ry="2.42" fill="#ff0000"/>
<ellipse cx="65.30" cy="506.94" rx="2.22" ry="2.42" fill="#ff0000"/>
<ellipse cx="72.30" cy="495.52" rx="2.22" ry="2.42" fill="#ff0000"/>
<ellipse cx="72.30" cy="508.37" rx="2.22" ry="2.42" fill="#ff0000"/>
<ellipse cx="81.62" cy="500.42" rx="2.22" ry="2.42" fill="#ff0000"/>
<ellipse cx="83.96" cy="495.52" rx="2.22" ry="2.42" fill="#ff0000"/>
<ellipse cx="104.94" cy="506.66" rx="2.22" ry="2.42" fill="#ff0000"/>
<ellipse cx="137.58" cy="389.16" rx="2.22" ry="2.42" fill="#ff0000"/>
<ellipse cx="137.58" cy="498.95" rx="2.22" ry="2.42" fill="#ff0000"/>
<ellipse cx="144.57" cy="492.86" rx="2.22" ry="2.42" fill="#ff0000"/>
<ellipse cx="146.90" cy="491.94" rx="2.22" ry="2.42" fill="#ff0000"/>
<ellipse cx="214.52" cy="383.83" rx="2.22" ry="2.42" fill="#ff0000"/>
<polyline points="32.51,505.12 51.16,506.36 53.50,506.30 65.15,505.28 65.15,505.28 72.15,504.09 72.15,504.09 81.47,501.84 83.81,501.16 104.79,492.87 137.43,472.28 137.43,472.28 144.42,466.65 146.75,464.68 214.37,386.69" fill="none" stroke="#0000ff" stroke-width="1.45" stroke-linejoin="round" stroke-linecap="square"/>
<polyline points="32.51,508.48 51.16,506.61 53.50,506.29 65.15,504.33 65.15,504.33 72.15,502.85 72.15,502.85 81.47,500.47 83.81,499.80 104.79,492.15 137.43,473.52 137.43,473.52 144.42,468.28 146.75,466.42 214.37,385.06" fill="none" stroke="#008000" stroke-width="1.45" stroke-linejoin="round" stroke-linecap="square"/>
</g>
<rect x="23.42" y="376.8" width="200.04" height="147.50" fill="none" stroke="#000" stroke-width="0.6"/>
<g>
<line x1="41.84" y1="524.3" x2="41.84" y2="526.30" stroke="#000" stroke-width="0.6"/>
<text transform="translate(41.84,533.60) rotate(0.05)" font-size="6.0" text-anchor="middle">100</text>
<line x1="65.15" y1="524.3" x2="65.15" y2="526.30" stroke="#000" stroke-width="0.6"/>
<text transform="translate(65.15,533.60) rotate(0.05)" font-size="6.0" text-anchor="middle">120</text>
<line x1="88.47" y1="524.3" x2="88.47" y2="526.30" stroke="#000" stroke-width="0.6"/>
<text transform="translate(88.47,533.60) rotate(0.05)" font-size="6.0" text-anchor="middle">140</text>
<line x1="111.78" y1="524.3" x2="111.78" y2="526.30" stroke="#000" stroke-width="0.6"/>
<text transform="translate(111.78,533.60) rotate(0.05)" font-size="6.0" text-anchor="middle">160</text>
<line x1="135.10" y1="524.3" x2="135.10" y2="526.30" stroke="#000" stroke-width="0.6"/>
<text transform="translate(135.10,533.60) rotate(0.05)" font-size="6.0" text-anchor="middle">180</text>
<line x1="158.41" y1="524.3" x2="158.41" y2="526.30" stroke="#000" stroke-width="0.6"/>
<text transform="translate(158.41,533.60) rotate(0.05)" font-size="6.0" text-anchor="middle">200</text>
<line x1="181.73" y1="524.3" x2="181.73" y2="526.30" stroke="#000" stroke-width="0.6"/>
<text transform="translate(181.73,533.60) rotate(0.05)" font-size="6.0" text-anchor="middle">220</text>
<line x1="205.04" y1="524.3" x2="205.04" y2="526.30" stroke="#000" stroke-width="0.6"/>
<text transform="translate(205.04,533.60) rotate(0.05)" font-size="6.0" text-anchor="middle">240</text>
<line x1="21.42" y1="522.49" x2="23.42" y2="522.49" stroke="#000" stroke-width="0.6"/>
<text transform="translate(18.62,524.79) rotate(0.05)" font-size="6.0" text-anchor="end">30</text>
<line x1="21.42" y1="491.75" x2="23.42" y2="491.75" stroke="#000" stroke-width="0.6"/>
<text transform="translate(18.62,494.05) rotate(0.05)" font-size="6.0" text-anchor="end">40</text>
<line x1="21.42" y1="461.02" x2="23.42" y2="461.02" stroke="#000" stroke-width="0.6"/>
<text transform="translate(18.62,463.32) rotate(0.05)" font-size="6.0" text-anchor="end">50</text>
<line x1="21.42" y1="430.28" x2="23.42" y2="430.28" stroke="#000" stroke-width="0.6"/>
<text transform="translate(18.62,432.58) rotate(0.05)" font-size="6.0" text-anchor="end">60</text>
<line x1="21.42" y1="399.54" x2="23.42" y2="399.54" stroke="#000" stroke-width="0.6"/>
<text transform="translate(18.62,401.84) rotate(0.05)" font-size="6.0" text-anchor="end">70</text>
<text transform="translate(123.44,372.90) rotate(0.05) scale(1.0,1)" font-size="6.6" text-anchor="middle"><tspan font-style="italic">M</tspan><tspan font-size="5.02" dy="1.1" dx="0.2">1</tspan><tspan dy="-1.1" dx="2.1">vs</tspan><tspan dx="2.6" letter-spacing="-0.25">ST</tspan></text>
<text transform="translate(123.79,542.80) rotate(0.05) scale(1.0,1)" font-size="6.8" text-anchor="middle"><tspan font-style="italic">M</tspan><tspan font-size="4.90" dy="0.95" dx="0.35">1</tspan></text>
</g>
<text transform="translate(8.69,451.55) rotate(-90) scale(0.95,1)" font-size="6.6" text-anchor="middle">ST</text>
<rect x="26.32" y="379.65" width="43.6" height="25.6" rx="1.1" fill="#fff" fill-opacity="0.8" stroke="#cccccc" stroke-width="0.5"/>
<ellipse cx="33.37" cy="384.65" rx="2.22" ry="2.42" fill="#ff0000"/>
<line x1="27.42" y1="392.55" x2="39.32" y2="392.55" stroke="#0000ff" stroke-width="1.45"/>
<line x1="27.42" y1="400.45" x2="39.32" y2="400.45" stroke="#008000" stroke-width="1.45"/>
<g>
<text transform="translate(42.82,386.10) rotate(0.05) scale(0.970,1)" font-size="5.9">Data</text>
<text transform="translate(42.82,394.05) rotate(0.05) scale(0.970,1)" font-size="5.9">Quadratic</text>
<text transform="translate(42.82,402.00) rotate(0.05) scale(0.970,1)" font-size="5.9">Cubic</text>
</g>
<clipPath id="clipMV"><rect x="254.05" y="376.8" width="199.68" height="147.50"/></clipPath>
<g clip-path="url(#clipMV)">
<ellipse cx="263.28" cy="508.98" rx="2.22" ry="2.42" fill="#ff0000"/>
<ellipse cx="281.89" cy="486.92" rx="2.22" ry="2.42" fill="#ff0000"/>
<ellipse cx="284.22" cy="457.86" rx="2.22" ry="2.42" fill="#ff0000"/>
<ellipse cx="295.86" cy="481.37" rx="2.22" ry="2.42" fill="#ff0000"/>
<ellipse cx="295.86" cy="482.56" rx="2.22" ry="2.42" fill="#ff0000"/>
<ellipse cx="302.84" cy="421.13" rx="2.22" ry="2.42" fill="#ff0000"/>
<ellipse cx="302.84" cy="444.91" rx="2.22" ry="2.42" fill="#ff0000"/>
<ellipse cx="312.15" cy="437.91" rx="2.22" ry="2.42" fill="#ff0000"/>
<ellipse cx="314.48" cy="470.01" rx="2.22" ry="2.42" fill="#ff0000"/>
<ellipse cx="335.42" cy="418.23" rx="2.22" ry="2.42" fill="#ff0000"/>
<ellipse cx="368.00" cy="402.37" rx="2.22" ry="2.42" fill="#ff0000"/>
<ellipse cx="368.00" cy="518.22" rx="2.22" ry="2.42" fill="#ff0000"/>
<ellipse cx="374.99" cy="408.85" rx="2.22" ry="2.42" fill="#ff0000"/>
<ellipse cx="377.31" cy="383.88" rx="2.22" ry="2.42" fill="#ff0000"/>
<ellipse cx="444.80" cy="425.23" rx="2.22" ry="2.42" fill="#ff0000"/>
<polyline points="263.13,498.45 281.74,477.85 284.07,475.49 295.71,464.40 295.71,464.40 302.69,458.32 302.69,458.32 312.00,450.89 314.33,449.15 335.27,435.63 367.85,422.29 367.85,422.29 374.84,420.65 377.16,420.20 444.65,427.84" fill="none" stroke="#0000ff" stroke-width="1.45" stroke-linejoin="round" stroke-linecap="square"/>
<polyline points="263.13,507.45 281.74,478.52 284.07,475.46 295.71,461.88 295.71,461.88 302.69,455.01 302.69,455.01 312.00,447.22 314.33,445.50 335.27,433.71 367.85,425.61 367.85,425.61 374.84,425.00 377.16,424.86 444.65,423.48" fill="none" stroke="#008000" stroke-width="1.45" stroke-linejoin="round" stroke-linecap="square"/>
</g>
<rect x="254.05" y="376.8" width="199.68" height="147.50" fill="none" stroke="#000" stroke-width="0.6"/>
<g>
<line x1="272.44" y1="524.3" x2="272.44" y2="526.30" stroke="#000" stroke-width="0.6"/>
<text transform="translate(272.44,533.60) rotate(0.05)" font-size="6.0" text-anchor="middle">100</text>
<line x1="295.71" y1="524.3" x2="295.71" y2="526.30" stroke="#000" stroke-width="0.6"/>
<text transform="translate(295.71,533.60) rotate(0.05)" font-size="6.0" text-anchor="middle">120</text>
<line x1="318.98" y1="524.3" x2="318.98" y2="526.30" stroke="#000" stroke-width="0.6"/>
<text transform="translate(318.98,533.60) rotate(0.05)" font-size="6.0" text-anchor="middle">140</text>
<line x1="342.25" y1="524.3" x2="342.25" y2="526.30" stroke="#000" stroke-width="0.6"/>
<text transform="translate(342.25,533.60) rotate(0.05)" font-size="6.0" text-anchor="middle">160</text>
<line x1="365.53" y1="524.3" x2="365.53" y2="526.30" stroke="#000" stroke-width="0.6"/>
<text transform="translate(365.53,533.60) rotate(0.05)" font-size="6.0" text-anchor="middle">180</text>
<line x1="388.80" y1="524.3" x2="388.80" y2="526.30" stroke="#000" stroke-width="0.6"/>
<text transform="translate(388.80,533.60) rotate(0.05)" font-size="6.0" text-anchor="middle">200</text>
<line x1="412.07" y1="524.3" x2="412.07" y2="526.30" stroke="#000" stroke-width="0.6"/>
<text transform="translate(412.07,533.60) rotate(0.05)" font-size="6.0" text-anchor="middle">220</text>
<line x1="435.34" y1="524.3" x2="435.34" y2="526.30" stroke="#000" stroke-width="0.6"/>
<text transform="translate(435.34,533.60) rotate(0.05)" font-size="6.0" text-anchor="middle">240</text>
<line x1="252.05" y1="512.42" x2="254.05" y2="512.42" stroke="#000" stroke-width="0.6"/>
<text transform="translate(249.25,514.72) rotate(0.05)" font-size="6.0" text-anchor="end">140</text>
<line x1="252.05" y1="485.83" x2="254.05" y2="485.83" stroke="#000" stroke-width="0.6"/>
<text transform="translate(249.25,488.13) rotate(0.05)" font-size="6.0" text-anchor="end">160</text>
<line x1="252.05" y1="459.24" x2="254.05" y2="459.24" stroke="#000" stroke-width="0.6"/>
<text transform="translate(249.25,461.54) rotate(0.05)" font-size="6.0" text-anchor="end">180</text>
<line x1="252.05" y1="432.65" x2="254.05" y2="432.65" stroke="#000" stroke-width="0.6"/>
<text transform="translate(249.25,434.95) rotate(0.05)" font-size="6.0" text-anchor="end">200</text>
<line x1="252.05" y1="406.06" x2="254.05" y2="406.06" stroke="#000" stroke-width="0.6"/>
<text transform="translate(249.25,408.36) rotate(0.05)" font-size="6.0" text-anchor="end">220</text>
<line x1="252.05" y1="379.47" x2="254.05" y2="379.47" stroke="#000" stroke-width="0.6"/>
<text transform="translate(249.25,381.77) rotate(0.05)" font-size="6.0" text-anchor="end">240</text>
<text transform="translate(353.89,372.90) rotate(0.05) scale(1.0,1)" font-size="6.6" text-anchor="middle"><tspan font-style="italic">M</tspan><tspan font-size="5.02" dy="1.1" dx="0.2">1</tspan><tspan dy="-1.1" dx="2.1">vs</tspan><tspan dx="2.6" letter-spacing="-0.25">MV</tspan></text>
<text transform="translate(354.24,542.80) rotate(0.05) scale(1.0,1)" font-size="6.8" text-anchor="middle"><tspan font-style="italic">M</tspan><tspan font-size="4.90" dy="0.95" dx="0.35">1</tspan></text>
</g>
<text transform="translate(236.32,451.55) rotate(-90) scale(0.95,1)" font-size="6.6" text-anchor="middle">MV</text>
<rect x="407.83" y="379.65" width="43.6" height="25.6" rx="1.1" fill="#fff" fill-opacity="0.8" stroke="#cccccc" stroke-width="0.5"/>
<ellipse cx="414.88" cy="384.65" rx="2.22" ry="2.42" fill="#ff0000"/>
<line x1="408.93" y1="392.55" x2="420.83" y2="392.55" stroke="#0000ff" stroke-width="1.45"/>
<line x1="408.93" y1="400.45" x2="420.83" y2="400.45" stroke="#008000" stroke-width="1.45"/>
<g>
<text transform="translate(424.33,386.10) rotate(0.05) scale(0.970,1)" font-size="5.9">Data</text>
<text transform="translate(424.33,394.05) rotate(0.05) scale(0.970,1)" font-size="5.9">Quadratic</text>
<text transform="translate(424.33,402.00) rotate(0.05) scale(0.970,1)" font-size="5.9">Cubic</text>
</g>
</svg>
</body></html>
